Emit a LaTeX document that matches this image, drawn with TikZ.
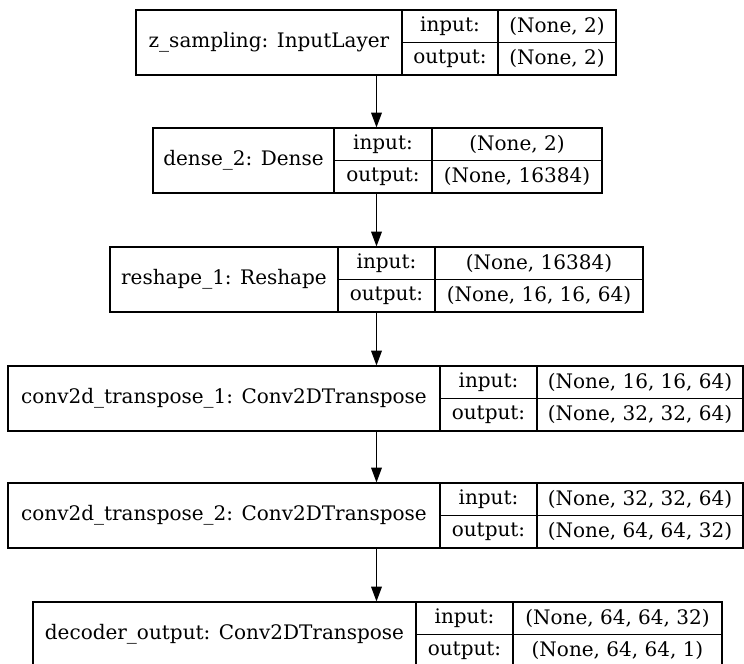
\documentclass[tikz,border=0pt]{standalone}
\usepackage{fontspec}
\setmainfont{DejaVu Serif}
\usetikzlibrary{arrows.meta,fit}

% One layer record: name, left, first divider, second divider, right, top,
% layer label, input shape, output shape
\newcommand\layerrec[9]{%
  \node[recbox, fit={(#2,#6) (#5,{#6+65})}] (#1) {};
  \draw[recline] (#3,#6) -- (#3,{#6+65});
  \draw[recline] (#4,#6) -- (#4,{#6+65});
  \draw[recline] (#3,{#6+32.5}) -- (#5,{#6+32.5});
  \node[rectext] (#1-lbl) at ({(#2+#3)/2},{#6+32.5}) {#7};
  \node[rectext] (#1-ik)  at ({(#3+#4)/2},{#6+16.25}) {input:};
  \node[rectext] (#1-ok)  at ({(#3+#4)/2},{#6+48.75}) {output:};
  \node[rectext] (#1-iv)  at ({(#4+#5)/2},{#6+16.25}) {#8};
  \node[rectext] (#1-ov)  at ({(#4+#5)/2},{#6+48.75}) {#9};
}

\begin{document}
\begin{tikzpicture}[x=0.75pt,y=-0.75pt,
  recbox/.style={draw=black, line width=0.9pt, inner sep=0pt},
  recline/.style={draw=black, line width=0.9pt},
  rectext/.style={font=\fontsize{15pt}{17pt}\selectfont, inner sep=0pt, anchor=center},
  flow/.style={draw=black, line width=0.9pt, -{Triangle[length=11pt,width=8pt]}}]
  \useasboundingbox[fill=white] (0,0) rectangle (744,664);

  \layerrec{zs}{136}{402}{498}{616}{10}{z\_sampling: InputLayer}{(None, 2)}{(None, 2)}
  \layerrec{dn}{153}{334}{432}{602}{128}{dense\_2: Dense}{(None, 2)}{(None, 16384)}
  \layerrec{rs}{110}{338}{435}{643}{247}{reshape\_1: Reshape}{(None, 16384)}{(None, 16, 16, 64)}
  \layerrec{ct1}{8}{440}{537}{743}{366}{conv2d\_transpose\_1: Conv2DTranspose}{(None, 16, 16, 64)}{(None, 32, 32, 64)}
  \layerrec{ct2}{8}{440}{537}{743}{483}{conv2d\_transpose\_2: Conv2DTranspose}{(None, 32, 32, 64)}{(None, 64, 64, 32)}
  \layerrec{dec}{33}{416}{513}{722}{602}{decoder\_output: Conv2DTranspose}{(None, 64, 64, 32)}{(None, 64, 64, 1)}

  \coordinate (axis) at (376.5,0);
  \draw[flow] (zs.south -| axis)  -- (dn.north -| axis);
  \draw[flow] (dn.south -| axis)  -- (rs.north -| axis);
  \draw[flow] (rs.south -| axis)  -- (ct1.north -| axis);
  \draw[flow] (ct1.south -| axis) -- (ct2.north -| axis);
  \draw[flow] (ct2.south -| axis) -- (dec.north -| axis);
\end{tikzpicture}
\end{document}
